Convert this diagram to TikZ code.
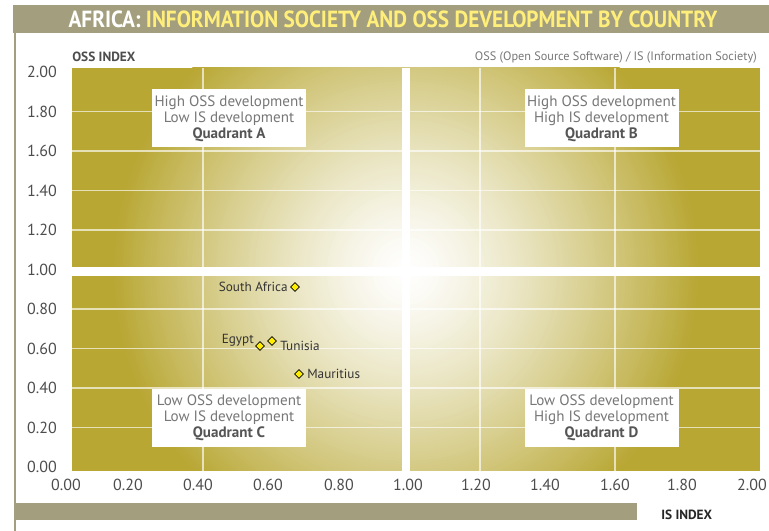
\documentclass[tikz,border=0pt]{standalone}
\usepackage{fontspec}
\setmainfont{PT Sans}
\usetikzlibrary{shapes.geometric}
\definecolor{oliv}{HTML}{B8A733}
\definecolor{barc}{HTML}{A39F7E}
\definecolor{ttlyel}{HTML}{FFEF7A}
\definecolor{axtxt}{HTML}{4D4D4D}
\definecolor{qtxt}{HTML}{777777}
\definecolor{qbold}{HTML}{555555}
\definecolor{dmd}{HTML}{FFEE00}
\begin{document}
\begin{tikzpicture}[x=0.75pt,y=-0.75pt,
  axlab/.style={font=\fontsize{12}{12}\selectfont, text=axtxt, inner sep=0pt},
  qbox/.style={fill=white, minimum width=115.5pt, minimum height=43.5pt, inner sep=0pt, align=center, text=qtxt, font=\fontsize{11.3}{12}\selectfont},
  gridln/.style={draw=white, draw opacity=0.65, line width=0.9pt},
  dpt/.style={diamond, draw=black, line width=0.6pt, fill=dmd, inner sep=0pt, minimum size=6.8pt},
  ptlab/.style={font=\fontsize{9.9}{10}\selectfont, text=black!80, inner sep=0pt}]
\useasboundingbox (0,0) rectangle (769,531);
\fill[white] (0,0) rectangle (769,531);
% frame
\fill[barc] (13,5) rectangle (769,33);
\fill[barc] (14,33) rectangle (16,531);
\fill[barc] (14,503) rectangle (637,520);
\node[inner sep=0pt, font=\bfseries\fontsize{17.5}{18}\selectfont] (title) at (393,19.5) {\scalebox{0.91}[1]{\textcolor{white}{AFRICA:} \textcolor{ttlyel}{INFORMATION SOCIETY AND OSS DEVELOPMENT BY COUNTRY}}};
% plot background
\begin{scope}
\clip (72,68) rectangle (760,471);
\fill[oliv] (72,68) rectangle (760,471);
\foreach \r in {295,292,...,3} {
  \pgfmathsetmacro{\p}{100*(\r/295)^1.3}
  \fill[oliv!\p!white] (406,271) circle (\r);
}
\foreach \y in {427.5,388,348.5,309,230,190.5,151,111.5} \draw[gridln] (72,\y) -- (760,\y);
\foreach \x in {203,480,615} \draw[gridln] (\x,68) -- (\x,471);
\fill[white] (402,68) rectangle (410,471);
\fill[white] (72,267) rectangle (760,276);
\end{scope}
% quadrant boxes
\node[qbox] (qa) at (229,118.5) {High OSS development\\Low IS development\\\textcolor{qbold}{\bfseries Quadrant A}};
\node[qbox] (qb) at (601.5,118.5) {High OSS development\\High IS development\\\textcolor{qbold}{\bfseries Quadrant B}};
\node[qbox] (qc) at (229,418) {Low OSS development\\Low IS development\\\textcolor{qbold}{\bfseries Quadrant C}};
\node[qbox] (qd) at (601.5,418) {Low OSS development\\High IS development\\\textcolor{qbold}{\bfseries Quadrant D}};
% axis labels
\foreach \v [count=\i from 0] in {0.00,0.20,0.40,0.60,0.80,1.00,1.20,1.40,1.60,1.80,2.00}
  \node[axlab, anchor=east] (yl\i) at (57,{467-39.5*\i}) {\v};
\foreach \v/\x [count=\i from 0] in {0.00/66,0.20/128,0.40/198,0.60/268,0.80/339,1.00/408,1.20/476,1.40/545,1.60/615,1.80/682,2.00/752}
  \node[axlab] (xl\i) at (\x,485) {\v};
\node[inner sep=0pt, anchor=west, text=axtxt, font=\bfseries\fontsize{10}{10}\selectfont] (ossidx) at (72,57) {OSS INDEX};
\node[inner sep=0pt, anchor=west, text=black!85, font=\bfseries\fontsize{10}{10}\selectfont] (isidx) at (661,515) {IS INDEX};
\node[inner sep=0pt, anchor=east, text=qtxt, font=\fontsize{9.2}{9}\selectfont] (note) at (757,57) {OSS (Open Source Software) / IS (Information Society)};
% data points
\node[dpt] (sa) at (295,287) {};
\node[dpt] (eg) at (260,346) {};
\node[dpt] (tu) at (272,341) {};
\node[dpt] (mu) at (299,374) {};
\node[ptlab, anchor=east] (salab) at (288,287) {South Africa};
\node[ptlab, anchor=east] (eglab) at (254,340) {Egypt};
\node[ptlab, anchor=west] (tulab) at (280,346) {Tunisia};
\node[ptlab, anchor=west] (mulab) at (307,374) {Mauritius};
\end{tikzpicture}
\end{document}
